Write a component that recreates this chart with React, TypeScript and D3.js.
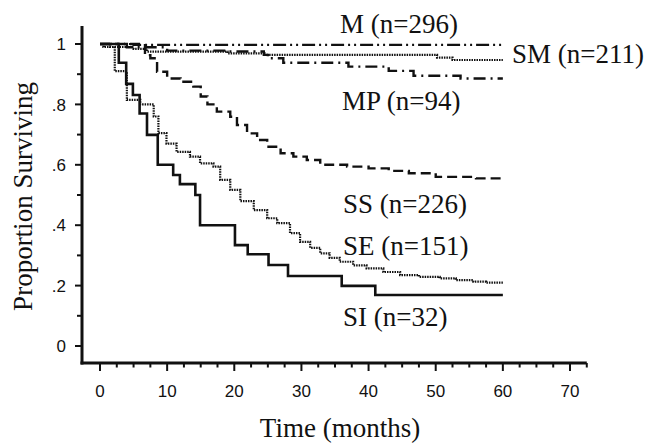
import React from "react";
import * as d3 from "d3";

// Kaplan-Meier curves (time in months, proportion surviving)
const mTime = [0, 5, 60];
const mSurv = [1, 0.997, 0.997];

const smTime = [0, 0.5, 5, 7, 19, 24.5, 50.2, 52.5, 60];
const smSurv = [1, 0.99, 0.984, 0.975, 0.969, 0.964, 0.955, 0.947, 0.947];

const mpTime = [0, 4, 10, 19, 24.4, 25, 27.3, 37, 43, 46.7, 53.7, 60];
const mpSurv = [1, 0.989, 0.978, 0.975, 0.964, 0.953, 0.938, 0.925, 0.911, 0.895, 0.886, 0.886];

const ssTime = [0, 6.7, 7.5, 8.5, 10, 12, 13.9, 15, 16, 17.4, 19.4, 20.4, 21.9, 23.4, 24.9, 26.9, 28.8, 30.8, 32.8, 36.8, 40, 43, 46, 50, 56, 60];
const ssSurv = [1, 0.963, 0.953, 0.908, 0.886, 0.875, 0.859, 0.826, 0.8, 0.776, 0.759, 0.732, 0.704, 0.682, 0.66, 0.638, 0.627, 0.616, 0.6, 0.594, 0.588, 0.58, 0.572, 0.56, 0.555, 0.555];

const seTime = [0, 1.5, 2.2, 4.0, 6.0, 8.0, 8.7, 9.9, 11.4, 13.4, 14.9, 16.9, 17.9, 19.4, 20.9, 22.9, 24.9, 26.4, 28.3, 29.8, 31.3, 32.8, 34.2, 35.7, 37.7, 39.7, 42.2, 44.7, 47.5, 50.6, 53, 55.6, 57.5, 60];
const seSurv = [1, 0.99, 0.91, 0.815, 0.8, 0.76, 0.705, 0.67, 0.643, 0.627, 0.605, 0.594, 0.55, 0.517, 0.48, 0.45, 0.423, 0.407, 0.374, 0.345, 0.325, 0.307, 0.292, 0.279, 0.267, 0.257, 0.245, 0.235, 0.229, 0.224, 0.218, 0.213, 0.21, 0.21];

const siTime = [0, 2.8, 3.9, 4.9, 5.9, 7.0, 8.6, 10.9, 11.9, 14.2, 14.9, 20.1, 22.0, 25.1, 28.0, 36.0, 41.0, 60];
const siSurv = [1, 0.938, 0.868, 0.831, 0.77, 0.699, 0.6, 0.566, 0.536, 0.5, 0.4, 0.334, 0.304, 0.268, 0.232, 0.199, 0.169, 0.169];

const xTicks = [0, 10, 20, 30, 40, 50, 60, 70];
const yTicks = [0, 0.2, 0.4, 0.6, 0.8, 1];
const yTickLabels = ["0", ".2", ".4", ".6", ".8", "1"];

const curves = [
  { name: "M", label: "M (n=296)", t: mTime, s: mSurv, dash: "13,4,2,4,2,4", width: 2.2, lx: 340, ly: 33 },
  { name: "SM", label: "SM (n=211)", t: smTime, s: smSurv, dash: "1.5,1", width: 2.2, lx: 512, ly: 63 },
  { name: "MP", label: "MP (n=94)", t: mpTime, s: mpSurv, dash: "12,5,2,5", width: 2.4, lx: 342, ly: 110 },
  { name: "SS", label: "SS (n=226)", t: ssTime, s: ssSurv, dash: "10,5", width: 2.4, lx: 343, ly: 213 },
  { name: "SE", label: "SE (n=151)", t: seTime, s: seSurv, dash: "1.5,1", width: 2.2, lx: 343, ly: 255 },
  { name: "SI", label: "SI (n=32)", t: siTime, s: siSurv, dash: null, width: 2.6, lx: 343, ly: 326 },
];

const serif = "'Liberation Serif', 'Times New Roman', Times, serif";
const sans = "'Liberation Sans', Arial, Helvetica, sans-serif";

export default function App() {
  const width = 651;
  const height = 445;

  const x = d3.scaleLinear().domain([0, 70]).range([100, 570]);
  const y = d3.scaleLinear().domain([0, 1]).range([346, 44]);

  const axisX = 82; // y axis line position
  const axisY = 363; // x axis line position

  const line = d3
    .line<[number, number]>()
    .curve(d3.curveStepAfter)
    .x((d) => x(d[0]))
    .y((d) => y(d[1]));

  const minorX = d3.range(0, 72.6, 2.5).filter((v) => v % 10 !== 0);
  const minorY = d3.range(0.1, 1, 0.2);

  return (
    <svg
      width={width}
      height={height}
      style={{ position: "absolute", left: 0, top: 0, background: "#fff" }}
    >
      {/* curves */}
      {curves.map((c) => (
        <path
          key={c.name}
          d={line(c.t.map((t, i) => [t, c.s[i]] as [number, number])) || ""}
          fill="none"
          stroke="#111"
          strokeWidth={c.width}
          strokeDasharray={c.dash || undefined}
        />
      ))}

      {/* axes */}
      <line x1={axisX} x2={axisX} y1={26} y2={axisY + 1.5} stroke="#111" strokeWidth={3} />
      <line x1={axisX - 1.5} x2={x(72.5)} y1={axisY} y2={axisY} stroke="#111" strokeWidth={3} />

      {yTicks.map((v, i) => (
        <g key={"yt" + v}>
          <line x1={axisX - 7} x2={axisX} y1={y(v)} y2={y(v)} stroke="#111" strokeWidth={2} />
          <text
            x={66}
            y={y(v)}
            dy="0.36em"
            textAnchor="end"
            fontFamily={sans}
            fontSize={17}
            fill="#111"
          >
            {yTickLabels[i]}
          </text>
        </g>
      ))}
      {minorY.map((v) => (
        <line key={"ym" + v} x1={axisX - 5} x2={axisX} y1={y(v)} y2={y(v)} stroke="#111" strokeWidth={2} />
      ))}

      {xTicks.map((v) => (
        <g key={"xt" + v}>
          <line x1={x(v)} x2={x(v)} y1={axisY} y2={axisY + 8} stroke="#111" strokeWidth={2} />
          <text
            x={x(v)}
            y={397}
            textAnchor="middle"
            fontFamily={sans}
            fontSize={17}
            fill="#111"
          >
            {v}
          </text>
        </g>
      ))}
      {minorX.map((v) => (
        <line key={"xm" + v} x1={x(v)} x2={x(v)} y1={axisY} y2={axisY + 4.5} stroke="#111" strokeWidth={2} />
      ))}

      {/* curve labels */}
      {curves.map((c) => (
        <text key={"l" + c.name} x={c.lx} y={c.ly} fontFamily={serif} fontSize={27} fill="#111">
          {c.label}
        </text>
      ))}

      {/* axis titles */}
      <text x={340} y={437} textAnchor="middle" fontFamily={serif} fontSize={27} fill="#111">
        Time (months)
      </text>
      <text
        transform={`translate(32, ${(78 + 315) / 2}) rotate(-90)`}
        textAnchor="middle"
        fontFamily={serif}
        fontSize={27}
        fill="#111"
      >
        Proportion Surviving
      </text>
    </svg>
  );
}
